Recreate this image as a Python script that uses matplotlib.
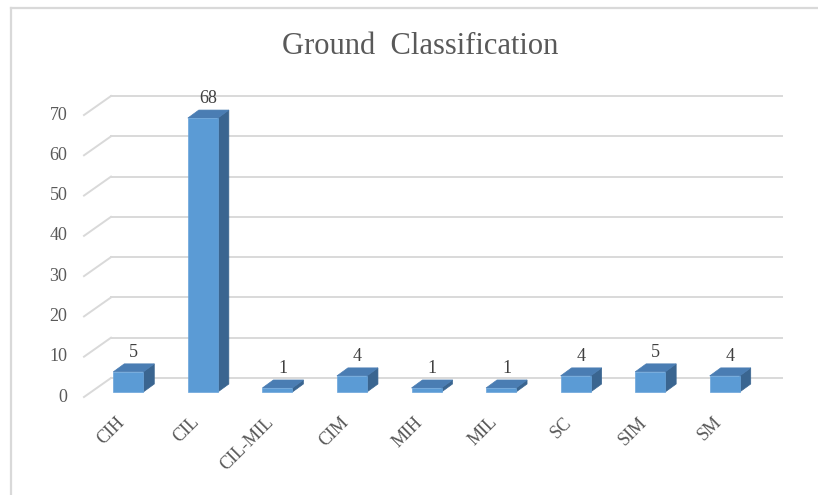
import matplotlib
matplotlib.use("Agg")
import matplotlib.pyplot as plt
from matplotlib.patches import Rectangle, Polygon
from matplotlib.lines import Line2D

plt.rcParams['font.family'] = ['Liberation Serif', 'DejaVu Serif']

# ground classes and their counts
classes = ['CIH', 'CIL', 'CIL-MIL', 'CIM', 'MIH', 'MIL', 'SC', 'SIM', 'SM']
counts = [5, 68, 1, 4, 1, 1, 4, 5, 4]
y_ticks = [0, 10, 20, 30, 40, 50, 60, 70]

FRONT = '#5B9BD5'
TOP = '#4A7DB3'
SIDE = '#3A6590'
GRID = '#D9D9D9'
TEXT = '#595959'

W, H, DPI = 818, 495, 100
fig = plt.figure(figsize=(W / DPI, H / DPI), dpi=DPI)

# axes = front plane of the bars (pixel layout of the plot area)
left, right, base, top = 91, 762, 392, 110
ax = fig.add_axes([left / W, (H - base) / H, (right - left) / W, (base - top) / H])
ax.set_xlim(-0.5, len(classes) - 0.5)
ax.set_ylim(0, 70)
ax.axis('off')

px_x = (right - left) / len(classes)
px_y = (base - top) / 70.0


def depth(dx, dy):
    # pixel shift (right, up) -> data units
    return dx / px_x, dy / px_y


back = depth(20, 14)      # back wall
floor = depth(-7, -5)     # front edge of the floor
bar_d = depth(11, 8)      # depth of a column
bar_w = 30 / px_x

x0, x1 = -0.5, len(classes) - 0.5

# back wall gridlines and the floor/side wall diagonals
for v in y_ticks:
    ax.add_line(Line2D([x0 + back[0], x1 + back[0]], [v + back[1], v + back[1]],
                       color=GRID, lw=1.4, clip_on=False, zorder=1))
    ax.add_line(Line2D([x0 + floor[0], x0 + back[0]], [v + floor[1], v + back[1]],
                       color=GRID, lw=1.4, clip_on=False, zorder=1))
    ax.annotate(str(v), (x0 + floor[0], v + floor[1]), xytext=(-12, 0),
                textcoords='offset points', ha='right', va='center',
                fontsize=13, color=TEXT, annotation_clip=False)

# 3d columns
for i, (name, v) in enumerate(zip(classes, counts)):
    xl, xr = i - bar_w / 2, i + bar_w / 2
    dx, dy = bar_d
    ax.add_patch(Polygon([(xr, 0), (xr + dx, dy), (xr + dx, v + dy), (xr, v)],
                         closed=True, fc=SIDE, ec=SIDE, lw=0.5, clip_on=False, zorder=3))
    ax.add_patch(Polygon([(xl, v), (xr, v), (xr + dx, v + dy), (xl + dx, v + dy)],
                         closed=True, fc=TOP, ec=TOP, lw=0.5, clip_on=False, zorder=3))
    ax.add_patch(Rectangle((xl, 0), bar_w, v, fc=FRONT, ec='#6AA5DB', lw=0.5,
                           clip_on=False, zorder=4))
    ax.annotate(str(v), (i + dx / 2, v + dy), xytext=(0, 5), textcoords='offset points',
                ha='center', va='baseline', fontsize=13, color='#404040',
                annotation_clip=False)
    ax.annotate(name, (i + floor[0], floor[1]), xytext=(5, -12), textcoords='offset points',
                ha='right', va='top', rotation=45, fontsize=13, color=TEXT,
                annotation_clip=False)

fig.text(420 / W, 1 - 46 / H, 'Ground  Classification', ha='center', va='center',
         fontsize=22, color=TEXT)

# chart frame
fig.add_artist(Line2D([11 / W, 11 / W], [0, 1 - 8 / H], color=GRID, lw=1.6))
fig.add_artist(Line2D([11 / W, 1], [1 - 8 / H, 1 - 8 / H], color=GRID, lw=1.6))

fig.savefig('out.png', dpi=DPI, facecolor='white')
